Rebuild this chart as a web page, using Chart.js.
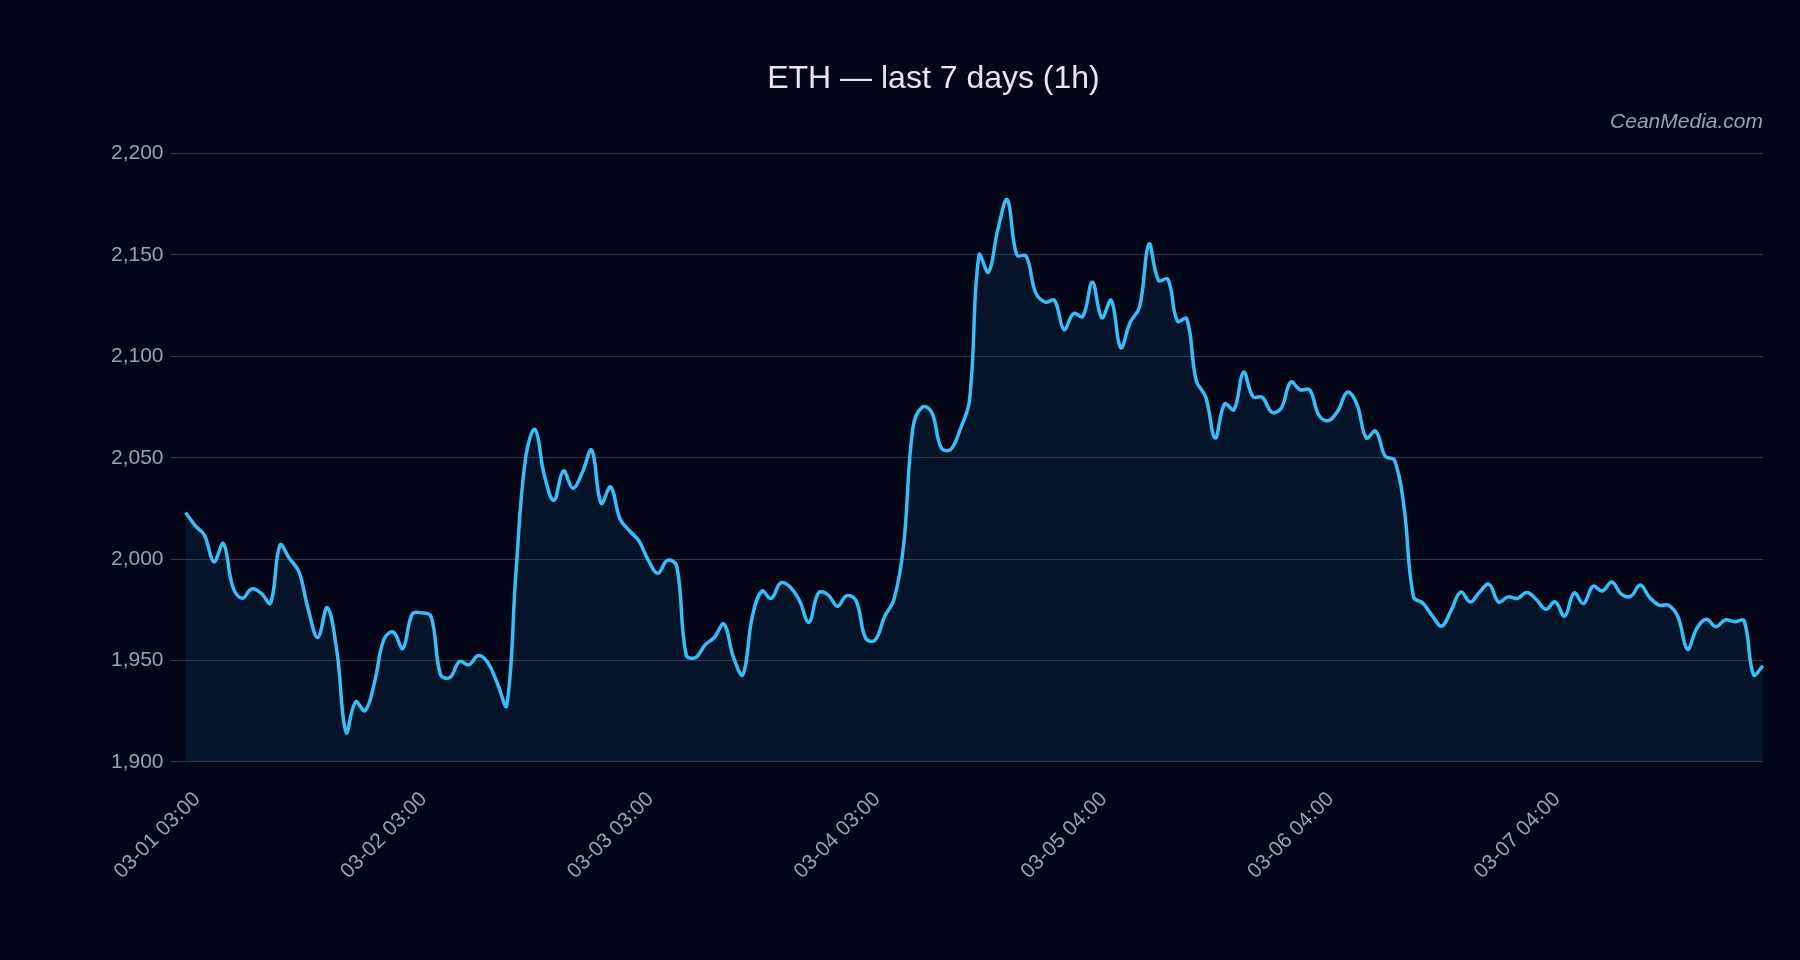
<!DOCTYPE html>
<html>
<head>
<meta charset="utf-8">
<title>ETH — last 7 days (1h)</title>
<script src="https://cdn.jsdelivr.net/npm/chart.js@4.4.1/dist/chart.umd.min.js"></script>
<style>
  html, body { margin: 0; padding: 0; background: #020617; }
  #wrap { width: 1800px; height: 960px; }
</style>
</head>
<body>
<div id="wrap"><canvas id="ethChart" width="1800" height="960"></canvas></div>
<script>
// hourly ETH price, one array per day (24 points each)
const day1 = [2023, 2016.7, 2011.8, 1998.7, 2007.7, 1986.4, 1980.7, 1985.3, 1983.2, 1978.3, 2006.9, 2000.3,
              1993.8, 1975, 1961.4, 1976.1, 1955.4, 1914.6, 1929.6, 1925.2, 1939.1, 1960.5, 1964, 1956];
const day2 = [1972.9, 1973.5, 1971.6, 1943, 1941.7, 1949.5, 1947.9, 1952.5, 1949, 1938.9, 1927.8, 1995,
              2050, 2063.9, 2041, 2029, 2043.5, 2035, 2042.7, 2053.8, 2027.5, 2035.6, 2019.8, 2014];
const day3 = [2009, 1999.4, 1993, 1999.4, 1996.6, 1952.8, 1951.5, 1957.7, 1961.5, 1968, 1951.7, 1943,
              1971.6, 1984.2, 1980.6, 1988.2, 1986.3, 1979.5, 1968.8, 1983.3, 1982.5, 1976.8, 1982, 1979.4];
const day4 = [1961, 1960.1, 1971.6, 1980.1, 2005.9, 2064.7, 2075, 2072.4, 2054.9, 2054.1, 2063.9, 2078.6,
              2150, 2141.5, 2162.7, 2177.2, 2150, 2149.4, 2131.4, 2126.8, 2127.6, 2113.2, 2121.1, 2119.8];
const day5 = [2136.6, 2119.1, 2127.6, 2104.3, 2116.7, 2124.4, 2155.4, 2137.5, 2138, 2117.4, 2118.6, 2088,
              2080, 2059.8, 2076.5, 2073.7, 2092.2, 2080.2, 2079.8, 2072.5, 2074.5, 2087.3, 2083.5, 2083.5];
const day6 = [2070.9, 2068.3, 2073.2, 2082.4, 2076.5, 2059.8, 2063.1, 2050.8, 2048.7, 2025.5, 1981.4, 1978.3,
              1972, 1967, 1974.9, 1983.8, 1978.9, 1983.8, 1987.6, 1978.9, 1981.4, 1980.6, 1983.5, 1980.1];
const day7 = [1975.3, 1978.9, 1971.9, 1983.3, 1978.1, 1986.6, 1984.3, 1988.7, 1982.7, 1981.7, 1987.2, 1981.1,
              1977.3, 1977.3, 1971.6, 1955.6, 1965.9, 1970.4, 1966.7, 1970, 1969.1, 1969.6, 1943, 1947.4];

// labels shown under the x axis, one every 24 points
const tickLabels = ['03-01 03:00', '03-02 03:00', '03-03 03:00', '03-04 03:00', '03-05 04:00', '03-06 04:00', '03-07 04:00'];
const ticksEvery = 24;

const prices = [...day1, ...day2, ...day3, ...day4, ...day5, ...day6, ...day7];
const hours = prices.map((_, i) => i);

const textFont = 'Liberation Sans, Arial, sans-serif';
const ctx = document.getElementById('ethChart').getContext('2d');

new Chart(ctx, {
    type: 'line',
    data: {
        labels: hours,
        datasets: [{
            label: 'ETH',
            data: prices,
            borderColor: '#38bdf8',
            backgroundColor: 'rgba(56, 189, 248, 0.08)',
            borderWidth: 3.5,
            tension: 0.4,
            pointRadius: 0,
            fill: 'start'
        }]
    },
    options: {
        responsive: false,
        animation: false,
        devicePixelRatio: 1,
        layout: { padding: { left: 104, right: 37, top: 0, bottom: 59 } },
        plugins: {
            legend: { display: false },
            tooltip: { enabled: false },
            title: {
                display: true,
                text: 'ETH — last 7 days (1h)',
                color: '#e2e8f0',
                font: { family: textFont, size: 32, weight: 'normal' },
                padding: { top: 60, bottom: 4 }
            },
            subtitle: {
                display: true,
                text: 'CeanMedia.com',
                align: 'end',
                color: '#94a3b8',
                font: { family: textFont, size: 21, style: 'italic' },
                padding: { top: 7.5, bottom: 18.5 }
            }
        },
        scales: {
            x: {
                grid: { display: false },
                border: { display: false },
                ticks: {
                    autoSkip: false,
                    minRotation: 45,
                    maxRotation: 45,
                    padding: 17,
                    labelOffset: 11.5,
                    color: '#94a3b8',
                    font: { family: textFont, size: 21 },
                    callback: (v, i) => i % ticksEvery === 0 ? tickLabels[i / ticksEvery] : ''
                }
            },
            y: {
                min: 1900,
                max: 2200,
                border: { display: false },
                grid: { color: 'rgba(148, 163, 184, 0.3)', tickLength: 15 },
                ticks: {
                    stepSize: 50,
                    padding: 7,
                    color: '#94a3b8',
                    font: { family: textFont, size: 21 },
                    callback: v => v.toLocaleString('en-US')
                }
            }
        }
    }
});
</script>
</body>
</html>
